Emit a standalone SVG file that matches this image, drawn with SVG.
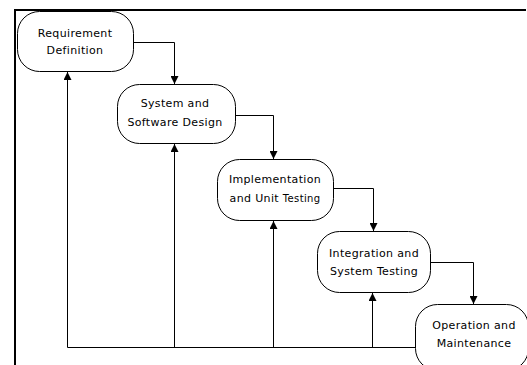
<svg xmlns="http://www.w3.org/2000/svg" width="527" height="365" viewBox="0 0 527 365">
<defs>
<marker id="arr" viewBox="0 0 10 10" refX="10" refY="5" markerWidth="8" markerHeight="8" markerUnits="userSpaceOnUse" orient="auto">
<path d="M0,0 L10,5 L0,10 Z" fill="#000"/>
</marker>
<style>
.node rect{fill:#fff;stroke:#000;stroke-width:1}
.node text{font-family:"DejaVu Sans",Verdana,sans-serif;font-size:11px;letter-spacing:0.35px;fill:#000;text-anchor:middle}
.sm{font-size:10px}
.conn path{fill:none;stroke:#000;stroke-width:1;marker-end:url(#arr)}
.fb{fill:none;stroke:#000;stroke-width:1}
.frame{stroke:#000;stroke-width:2;fill:none}
</style>
</defs>
<rect width="527" height="365" fill="#fff"/>
<path class="frame" d="M15,365 V10 H526"/>
<g class="conn">
<path d="M133.5,42.5 H174.5 V84"/>
<path d="M235.5,115.5 H273.5 V159"/>
<path d="M333.5,188.5 H373.5 V231"/>
<path d="M430.5,262.5 H473.5 V304"/>
<path class="fb" style="marker-end:none" d="M67.5,347.5 H416"/>
<path d="M67.5,347.5 V72"/>
<path d="M174.5,347.5 V144"/>
<path d="M273.5,347.5 V221"/>
<path d="M372.5,347.5 V293"/>
</g>
<g id="n1" class="node">
<rect x="17.5" y="11.5" width="116" height="60" rx="22" ry="22"/>
<text x="75" y="37">Requirement</text>
<text x="75" y="54">Definition</text>
</g>
<g id="n2" class="node">
<rect x="117.5" y="84.5" width="118" height="59" rx="22" ry="22"/>
<text x="175" y="107">System and</text>
<text x="175" y="126" class="sm">Software Design</text>
</g>
<g id="n3" class="node">
<rect x="217.5" y="159.5" width="116" height="61" rx="22" ry="22"/>
<text x="275" y="183">Implementation</text>
<text x="275" y="202">and Unit <tspan class="sm">Testing</tspan></text>
</g>
<g id="n4" class="node">
<rect x="317.5" y="231.5" width="113" height="61" rx="22" ry="22"/>
<text x="374" y="257">Integration and</text>
<text x="374" y="275">System Testing</text>
</g>
<g id="n5" class="node">
<rect x="415.5" y="304.5" width="113" height="66" rx="22" ry="22"/>
<text x="474" y="329">Operation and</text>
<text x="474" y="347">Maintenance</text>
</g>
</svg>
